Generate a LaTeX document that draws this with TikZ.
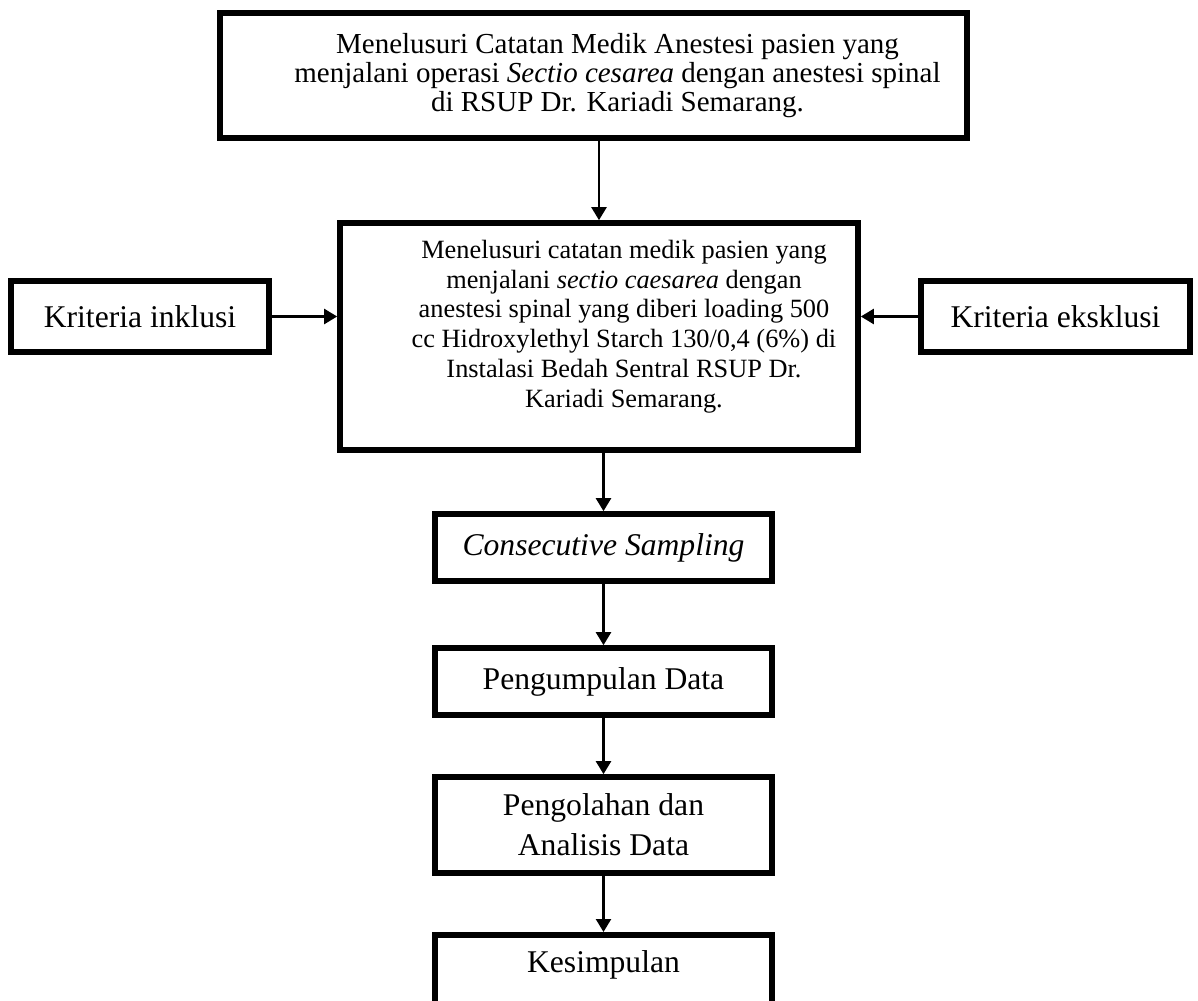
\documentclass[tikz,border=0pt]{standalone}
\usepackage{fontspec}
\setmainfont{Liberation Serif}
\usetikzlibrary{arrows.meta, positioning, calc}
% centred lines, pushed to the right by #2 inside a box of width #1
\newcommand{\teksgeser}[3]{\parbox{#1}{\centering\advance\leftskip by #2\relax #3}}

\begin{document}
\begin{tikzpicture}[x=0.02cm, y=-0.02cm]
    \def\px{0.02cm}
    \tikzset{
        box/.style={draw=black, line width=3.2pt, fill=white, align=center, inner sep=0pt},
        arr/.style={-{Triangle[width=8.5pt, length=7.4pt]}, line width=1.4pt},
        bigfont/.style={font=\fontsize{18}{22.7}\selectfont},
        midfont/.style={font=\fontsize{15}{17}\selectfont}
    }
    \useasboundingbox (0,0) rectangle (1198,1001);

    % ===== Top box =====
    \node[box, font=\fontsize{16.5}{16.6}\selectfont, minimum width=747*\px, minimum height=125*\px] (telusur) at (593.5, 75.5)
        {\teksgeser{14.8cm}{0.96cm}{Menelusuri Catatan Medik Anestesi pasien yang\\
         menjalani operasi \textit{Sectio cesarea} dengan anestesi spinal\\
         di RSUP Dr. Kariadi Semarang.}};

    % ===== Middle row =====
    \node[box, midfont, minimum width=518*\px, minimum height=227*\px] (rekam) at (599, 336.5)
        {\teksgeser{10.2cm}{1cm}{Menelusuri catatan medik pasien yang\\
         menjalani \textit{sectio caesarea} dengan\\
         anestesi spinal yang diberi loading 500\\
         cc Hidroxylethyl Starch 130/0,4 (6\%) di\\
         Instalasi Bedah Sentral RSUP Dr.\\
         Kariadi Semarang.\par\vspace*{0.4cm}}};
    \node[box, bigfont, minimum width=258*\px, minimum height=71*\px] (inklusi) at (140, 316.5) {Kriteria inklusi};
    \node[box, bigfont, minimum width=269*\px, minimum height=71*\px] (eksklusi) at (1055.5, 316.5) {Kriteria eksklusi};

    % ===== Lower chain =====
    \node[box, bigfont, minimum width=337*\px, minimum height=67*\px] (sampling) at (603.5, 547.5) {\textit{Consecutive Sampling}};
    \node[box, bigfont, minimum width=337*\px, minimum height=67*\px] (kumpul) at (603.5, 681.5) {Pengumpulan Data};
    \node[box, bigfont, minimum width=337*\px, minimum height=96*\px] (olah) at (603.5, 825) {Pengolahan dan\\ Analisis Data};
    \node[box, bigfont, minimum width=337*\px, text height=21.5pt, text depth=38pt, anchor=north] (simpul) at (603.5, 932) {Kesimpulan};

    % Arrows
    \draw[arr] (rekam.north |- telusur.south) -- (rekam.north);
    \draw[arr] (inklusi.east) -- (inklusi.east -| rekam.west);
    \draw[arr] (eksklusi.west) -- (eksklusi.west -| rekam.east);
    \draw[arr] (sampling.north |- rekam.south) -- (sampling.north);
    \draw[arr] (sampling.south) -- (kumpul.north);
    \draw[arr] (kumpul.south) -- (olah.north);
    \draw[arr] (olah.south) -- (simpul.north);
\end{tikzpicture}
\end{document}
